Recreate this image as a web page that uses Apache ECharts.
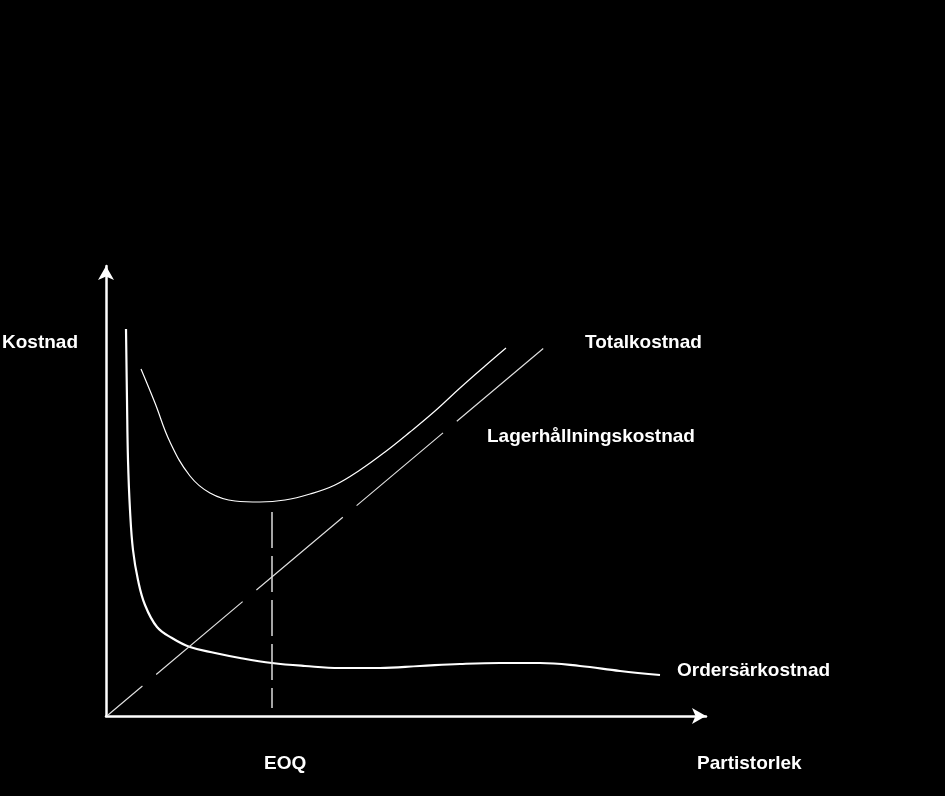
<!DOCTYPE html>
<html><head><meta charset="utf-8">
<script src="https://cdn.jsdelivr.net/npm/echarts@6/dist/echarts.min.js"></script>
<style>html,body{margin:0;padding:0;background:#000}#c{width:945px;height:796px}</style>
</head><body><div id="c"></div>
<script>
// Units: Partistorlek (x) 0..120, Kostnad (y) 0..90
const totalCost = [[7,69.4],[9.8,62.6],[12.8,54.8],[16.8,48],[20.8,44.6],[25.8,43],[30.8,42.8],[35.8,43.2],[40.8,44.4],[45.8,46.2],[50.8,49.2],[55.8,52.8],[60.8,56.8],[65.8,61],[70.8,65.6],[75.8,70],[80,73.6]];
const orderCost = [[4,77.4],[4.2,63.2],[4.4,51.2],[4.8,41.2],[5.4,33.2],[6.4,27.2],[7.8,22.2],[10.2,17.8],[13.2,15.6],[16.8,13.8],[21.8,12.6],[26.8,11.6],[33.2,10.6],[39.8,10],[46.8,9.6],[54.8,9.6],[62.8,10],[70.8,10.4],[78.8,10.6],[86.8,10.6],[94.8,10],[102.8,9],[110.8,8.2]];
const holdingCost = [[0.4,0.2],[87.8,73.8]];
const eoqLine = [[33.2,40.8],[33.2,1.6]];
const labels = [
  {text:'Kostnad', x:2, y:344},
  {text:'Totalkostnad', x:585, y:344},
  {text:'Lagerhållningskostnad', x:487, y:438},
  {text:'Ordersärkostnad', x:677, y:672},
  {text:'EOQ', x:264, y:765},
  {text:'Partistorlek', x:697, y:765}
];
const chart = echarts.init(document.getElementById('c'));
const font = {fill:'#fff', fontFamily:'Liberation Sans', fontWeight:'bold', fontSize:19};
chart.setOption({
  backgroundColor:'#000',
  animation:false,
  grid:{left:106, right:239, top:266, bottom:80},
  xAxis:{type:'value', min:0, max:120, axisLine:{show:true, symbol:['none','arrow'], symbolSize:[12,14], lineStyle:{color:'#fff', width:2.5}}, axisTick:{show:false}, axisLabel:{show:false}, splitLine:{show:false}},
  yAxis:{type:'value', min:0, max:90, axisLine:{show:true, symbol:['none','arrow'], symbolSize:[12,14], lineStyle:{color:'#fff', width:2.5}}, axisTick:{show:false}, axisLabel:{show:false}, splitLine:{show:false}},
  graphic: labels.map(l => ({type:'text', left:l.x, top:l.y-11, style:Object.assign({text:l.text}, font)})),
  series:[
    {type:'line', data:totalCost, smooth:0.4, showSymbol:false, lineStyle:{color:'#fff', width:1.2}},
    {type:'line', data:orderCost, smooth:0.4, showSymbol:false, lineStyle:{color:'#fff', width:2.2}},
    {type:'line', data:holdingCost, showSymbol:false, lineStyle:{color:'#ddd', width:1.2, type:[113,18], dashOffset:68}},
    {type:'line', data:eoqLine, showSymbol:false, lineStyle:{color:'#ddd', width:1.5, type:[36,8]}}
  ]
});
</script></body></html>
